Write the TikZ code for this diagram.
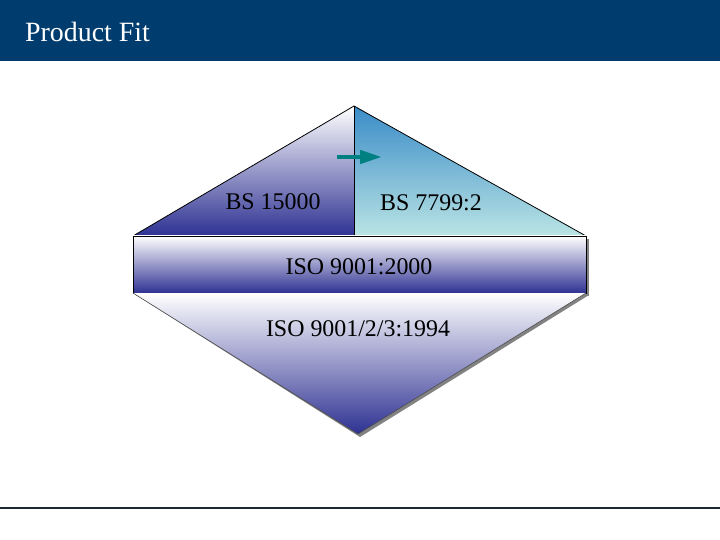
\documentclass[tikz,border=0pt]{standalone}
\usepackage{fontspec}
\setmainfont{Liberation Serif}
\usetikzlibrary{arrows.meta}
\definecolor{H1}{RGB}{0,61,110}
\definecolor{D1}{RGB}{46,49,146}
\definecolor{B1}{RGB}{58,140,200}
\definecolor{B2}{RGB}{186,228,228}
\definecolor{T1}{RGB}{0,128,128}
\definecolor{S1}{RGB}{130,130,130}
\definecolor{F1}{RGB}{30,40,50}
\tikzset{
  lbl/.style={font=\fontsize{24}{26}\selectfont, inner sep=0pt},
  edge/.style={line width=0.8bp, black},
}

\begin{document}
\begin{tikzpicture}[x=1bp,y=-1bp]
  \useasboundingbox (0,0) rectangle (720,540);
  % header
  \fill[H1] (0,0) rectangle (720,61);
  \node[right, text=white, inner sep=0pt, font=\fontsize{28}{30}\selectfont] (title) at (25,32) {Product Fit};
  % corners
  \coordinate (top) at (354,106);
  \coordinate (lft) at (133,236);
  \coordinate (rgt) at (586,236);
  \coordinate (mid) at (354,236);
  \coordinate (bl) at (133,293);
  \coordinate (br) at (586,293);
  \coordinate (apex) at (358,434);
  % shadows
  \fill[S1] ([shift={(3,3)}]lft) rectangle ([shift={(3,3)}]br);
  \fill[S1] ([shift={(3,2)}]bl) -- ([shift={(3,2)}]br) -- ([shift={(2,3)}]apex) -- cycle;
  % upper half
  \shade[top color=white, bottom color=D1] (top) -- (mid) -- (lft) -- cycle;
  \shade[top color=B1, bottom color=B2] (top) -- (rgt) -- (mid) -- cycle;
  \draw[edge] (lft) -- (top) -- (rgt);
  \draw[edge] (top) -- (mid);
  % band
  \shade[top color=white, bottom color=D1] (lft) rectangle (br);
  \draw[edge] (lft) rectangle (br);
  % lower half
  \shade[top color=white, bottom color=D1] (bl) -- (br) -- (apex) -- cycle;
  \draw[line width=0.6bp, S1!60!black] (bl) -- (apex) -- (br);
  % arrow
  \coordinate (a1) at (337,157);
  \coordinate (a2) at (382,157);
  \draw[T1, line width=4.5bp, -{Triangle[length=22bp, width=13bp]}] (a1) -- (a2);
  % labels
  \node[lbl] (bs1) at (273,202) {BS 15000};
  \node[lbl] (bs2) at (431,203) {BS 7799:2};
  \node[lbl] (iso1) at (359,267) {ISO 9001:2000};
  \node[lbl] (iso2) at (358,329) {ISO 9001/2/3:1994};
  % footer rule
  \coordinate (f1) at (0,508);
  \coordinate (f2) at (720,508);
  \draw[line width=1.2bp, F1] (f1) -- (f2);
\end{tikzpicture}
\end{document}
